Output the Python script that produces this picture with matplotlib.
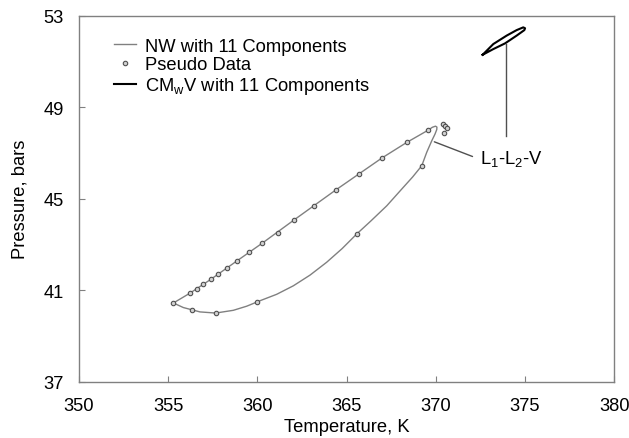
import matplotlib
matplotlib.use("Agg")
import matplotlib.pyplot as plt

plt.rcParams['font.family'] = ['Liberation Sans', 'DejaVu Sans']
plt.rcParams['mathtext.fontset'] = 'custom'
plt.rcParams['mathtext.rm'] = 'Liberation Sans'

# NW model with 11 components (phase envelope, traced round the loop)
nw_T = [355.29, 356.22, 357.38, 358.87, 360.28, 362.07, 364.39, 367.00, 368.37,
        369.58, 369.80, 369.98, 370.06, 370.05, 369.95, 369.77, 369.49, 369.21,
        368.70, 368.18, 367.25, 366.35, 365.57, 364.75, 363.88, 362.95, 362.01,
        361.08, 360.15, 359.40, 358.65, 357.66, 356.78, 355.85, 355.29]
nw_P = [40.44, 40.87, 41.47, 42.29, 43.06, 44.08, 45.38, 46.79, 47.46,
        48.00, 48.12, 48.17, 48.13, 48.02, 47.82, 47.53, 47.03, 46.44,
        45.95, 45.50, 44.69, 44.02, 43.46, 42.82, 42.22, 41.66, 41.19,
        40.82, 40.54, 40.30, 40.12, 40.00, 40.05, 40.24, 40.44]

# pseudo data points
pd_T = [355.29, 356.22, 356.60, 356.97, 357.38, 357.79, 358.31, 358.87, 359.53,
        360.28, 361.14, 362.07, 363.17, 364.39, 365.68, 367.00, 368.37, 369.58,
        370.42, 370.50, 370.60, 370.46,
        356.32, 357.66, 359.96, 365.56, 369.21]
pd_P = [40.44, 40.87, 41.06, 41.26, 41.47, 41.71, 41.98, 42.29, 42.65,
        43.06, 43.51, 44.08, 44.69, 45.38, 46.07, 46.79, 47.46, 48.00,
        48.26, 48.19, 48.11, 47.87,
        40.14, 40.00, 40.47, 43.44, 46.44]

# CMwV with 11 components (small three-phase loop)
cm_T = [372.62, 373.22, 373.97, 374.53, 374.90, 375.00, 374.96, 374.53, 373.88, 373.22, 372.62]
cm_P = [51.29, 51.76, 52.13, 52.37, 52.49, 52.45, 52.37, 52.13, 51.79, 51.54, 51.29]

fs = 13.2

fig = plt.figure(figsize=(6.29, 4.39), dpi=100)
ax = fig.add_axes([0.1256, 0.1283, 0.8510, 0.8337])

ax.plot(nw_T, nw_P, color='#808080', lw=1.0, label='NW with 11 Components')
ax.plot(pd_T, pd_P, linestyle='none', marker='o', ms=3.2, mfc='#d0d0d0',
        mec='#505050', mew=0.8, label='Pseudo Data')
ax.plot(cm_T, cm_P, color='black', lw=1.5, label='CM$\\mathregular{_w}$V with 11 Components')

# L1-L2-V label with its two pointer lines
ax.annotate('', xy=(369.77, 47.53), xytext=(372.2, 46.8),
            arrowprops=dict(arrowstyle='-', color='#505050', lw=1.0))
ax.plot([373.94, 373.94], [51.76, 47.74], color='#505050', lw=1.0)
ax.text(372.5, 46.8, 'L$\\mathregular{_1}$-L$\\mathregular{_2}$-V', fontsize=fs,
        ha='left', va='center')

ax.set_xlim(350, 380)
ax.set_ylim(37, 53)
ax.set_xticks([350, 355, 360, 365, 370, 375, 380])
ax.set_yticks([37, 41, 45, 49, 53])
ax.tick_params(direction='in', length=4, color='#808080', labelsize=fs, pad=11)
for s in ax.spines.values():
    s.set_color('#808080')
    s.set_linewidth(1.0)

ax.set_xlabel('Temperature, K', fontsize=fs, labelpad=3)
ax.set_ylabel('Pressure, bars', fontsize=fs, labelpad=11)

ax.legend(loc='upper left', bbox_to_anchor=(0.045, 0.97), frameon=False,
          fontsize=fs, handlelength=1.2, handletextpad=0.5, labelspacing=0.1,
          borderaxespad=0.2)

fig.savefig('out.png', dpi=100)
